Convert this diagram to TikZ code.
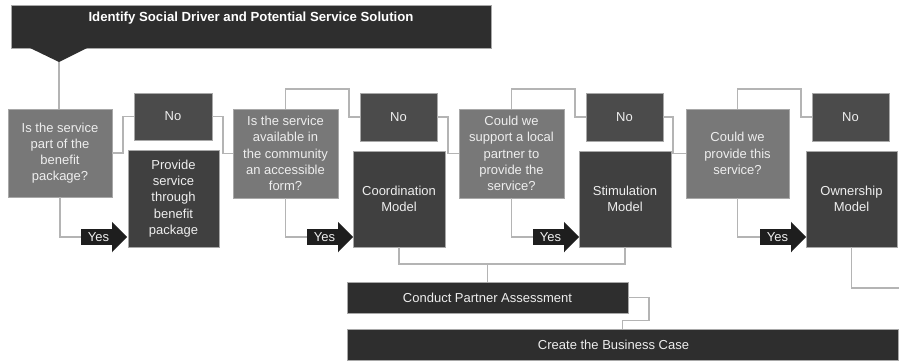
\documentclass[tikz,border=0pt]{standalone}
\usepackage{fontspec}
\setmainfont{Liberation Sans}
\usetikzlibrary{calc}
\definecolor{darkbox}{HTML}{2E2E2E}
\definecolor{qcol}{HTML}{787878}
\definecolor{nocol}{HTML}{4B4B4B}
\definecolor{modcol}{HTML}{404040}
\definecolor{yescol}{HTML}{1E1E1E}
\definecolor{linecol}{HTML}{B4B4B4}
\definecolor{edgecol}{HTML}{A8A8A8}
\definecolor{txtcol}{HTML}{EEEEEE}
\tikzset{
  basebox/.style={rectangle, inner sep=0pt, outer sep=0pt, draw=edgecol, line width=0.6pt,
    text=txtcol, align=center, font=\fontsize{13}{16.2}\selectfont},
  qbox/.style={basebox, fill=qcol},
  nobox/.style={basebox, fill=nocol},
  modbox/.style={basebox, fill=modcol},
  darkbar/.style={basebox, fill=darkbox},
  yesbody/.style={rectangle, fill=yescol, inner sep=0pt, outer sep=0pt, minimum width=31pt,
    minimum height=15.5pt, text=txtcol, font=\fontsize{13}{16.2}\selectfont},
  conn/.style={draw=linecol, line width=1.2pt},
}
\newcommand{\yeshead}[1]{\fill[yescol] ([yshift=7.5pt]#1.north east) -- ([xshift=15pt]#1.east) -- ([yshift=-7.5pt]#1.south east) -- cycle;}
\begin{document}
\begin{tikzpicture}[x=1pt,y=-1pt]
\useasboundingbox[fill=white] (0,0) rectangle (899,362);
% title
\node[darkbar, minimum width=480pt, minimum height=43pt, text height=16.6pt, text depth=26.4pt,
  text=white, font=\bfseries\fontsize{13.2}{15.7}\selectfont] (title) at (251,26.5)
  {Identify Social Driver and Potential Service Solution};
\coordinate (tp) at (59,62);
\fill[darkbox] (29,47.5) -- (tp) -- (88,47.5) -- cycle;
% boxes
\node[qbox, minimum width=104pt, minimum height=88pt] (q1) at (60,153)
  {Is the service\\part of the\\benefit\\package?};
\node[nobox, minimum width=78pt, minimum height=47pt] (no1) at (173,116.5) {No};
\node[modbox, minimum width=91pt, minimum height=97pt] (prov) at (173.5,198.5)
  {Provide\\service\\through\\benefit\\package};
\node[qbox, minimum width=105pt, minimum height=89pt] (q2) at (285.5,153.5)
  {Is the service\\available in\\the community\\an accessible\\form?};
\node[nobox, minimum width=77pt, minimum height=48pt] (no2) at (398.5,117) {No};
\node[modbox, minimum width=92pt, minimum height=96pt] (coord) at (399,199)
  {Coordination\\Model};
\node[qbox, minimum width=105pt, minimum height=89pt] (q3) at (511.5,153.5)
  {Could we\\support a local\\partner to\\provide the\\service?};
\node[nobox, minimum width=77pt, minimum height=48pt] (no3) at (624.5,117) {No};
\node[modbox, minimum width=92pt, minimum height=96pt] (stim) at (625,199)
  {Stimulation\\Model};
\node[qbox, minimum width=103pt, minimum height=89pt] (q4) at (737.5,153.5)
  {Could we\\provide this\\service?};
\node[nobox, minimum width=77pt, minimum height=48pt] (no4) at (850.5,117) {No};
\node[modbox, minimum width=91pt, minimum height=96pt] (own) at (851.5,199)
  {Ownership\\Model};
\node[darkbar, minimum width=281pt, minimum height=31pt] (conduct) at (487.5,297.5)
  {Conduct Partner Assessment};
\node[darkbar, minimum width=551pt, minimum height=31pt] (create) at (622.5,344.5)
  {Create the Business Case\hspace*{18pt}};
% yes arrows
\node[yesbody] (y1) at (96.5,237) {\hspace*{4pt}Yes};
\node[yesbody] (y2) at (322.5,237) {\hspace*{4pt}Yes};
\node[yesbody] (y3) at (548.5,237) {\hspace*{4pt}Yes};
\node[yesbody] (y4) at (775.5,237) {\hspace*{4pt}Yes};
\yeshead{y1}\yeshead{y2}\yeshead{y3}\yeshead{y4}
% connectors
\draw[conn] (tp) -- (tp |- q1.north);
\draw[conn] (q1.east) -- ++(11,0) |- (no1.west);
\draw[conn] (no1.east) -- ++(11,0) |- (q2.west);
\draw[conn] (q2.north) |- (349,89) |- (no2.west);
\draw[conn] (no2.east) -- ++(11,0) |- (q3.west);
\draw[conn] (q3.north) |- (575,89) |- (no3.west);
\draw[conn] (no3.east) -- ++(10,0) |- (q4.west);
\draw[conn] (q4.north) |- (801,89) |- (no4.west);
\draw[conn] (q1.south) |- (y1.west);
\draw[conn] (q2.south) |- (y2.west);
\draw[conn] (q3.south) |- (y3.west);
\draw[conn] (q4.south) |- (y4.west);
\draw[conn] (coord.south) -- ++(0,17) -| (stim.south);
\draw[conn] (conduct.north) -- ++(0,-18);
\draw[conn] (conduct.east) -- ++(21,0) -- ++(0,23) -| (create.north);
\coordinate (oend) at (899,288);
\draw[conn] (own.south) |- (oend);
\end{tikzpicture}
\end{document}
